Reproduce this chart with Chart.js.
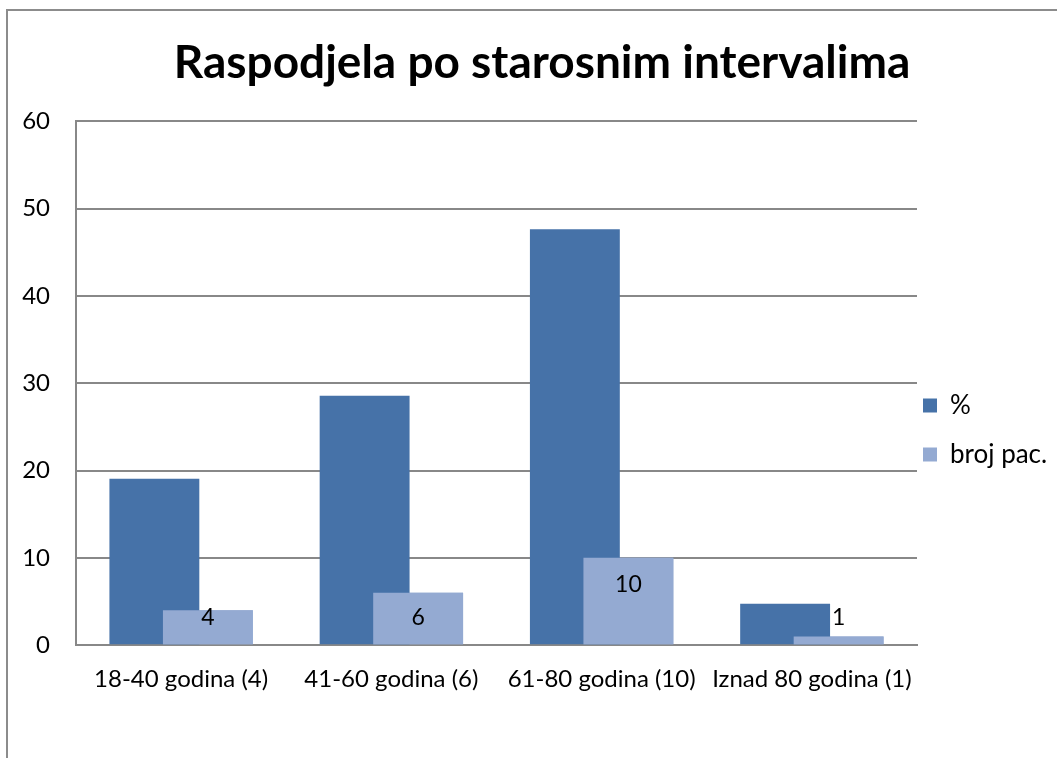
<!DOCTYPE html>
<html>
<head>
<meta charset="utf-8">
<script src="https://cdn.jsdelivr.net/npm/chart.js@4"></script>
<style>
  html, body { margin: 0; padding: 0; background: #ffffff; overflow: hidden; }
  #wrap { position: relative; width: 1057px; height: 758px; }
  #frame { position: absolute; left: 6px; top: 9px; width: 1100px; height: 800px;
           border-left: 2px solid #8c8c8c; border-top: 2px solid #8c8c8c; pointer-events: none; }
  canvas { position: absolute; left: 0; top: 0; }
</style>
</head>
<body>
<div id="wrap">
  <canvas id="c" width="1057" height="758"></canvas>
  <div id="frame"></div>
</div>
<script>
const titleText = 'Raspodjela po starosnim intervalima';
const categories = ['18-40 godina (4)', '41-60 godina (6)', '61-80 godina (10)', 'Iznad 80 godina (1)'];
const seriesNames = ['%', 'broj pac.'];
const percentValues = [19.05, 28.57, 47.62, 4.76];
const patientCounts = [4, 6, 10, 1];
const yTicks = [0, 10, 20, 30, 40, 50, 60];

const FONT = 'Lato, "Open Sans", sans-serif';
const DARK = '#4672A8';
const LIGHT = '#94AAD2';
const GRID = '#888888';

const overlapPlugin = {
  id: 'overlapAndLabels',
  afterLayout(chart) {
    const l = chart.legend;
    if (l) { l.left -= 17; l.top += 73; l.bottom += 73; }
    const t = chart.titleBlock;
    if (t) { t.left += 27; }
  },
  afterDatasetsDraw(chart) {
    const meta = chart.getDatasetMeta(1);
    const ctx = chart.ctx;
    const area = chart.chartArea;
    ctx.save();
    ctx.beginPath();
    ctx.rect(area.left, area.top, area.right - area.left, area.bottom - area.top);
    ctx.clip();
    meta.controller.draw();
    ctx.restore();
    ctx.save();
    ctx.fillStyle = '#000000';
    ctx.font = '23px ' + FONT;
    ctx.textAlign = 'center';
    ctx.textBaseline = 'middle';
    meta.data.forEach((bar, i) => {
      const y = Math.min(bar.y + 27, bar.base - 27);
      ctx.fillText(String(patientCounts[i]), bar.x, y);
    });
    ctx.restore();
  }
};

new Chart(document.getElementById('c'), {
  type: 'bar',
  data: {
    labels: categories,
    datasets: [
      { label: seriesNames[0], data: percentValues, backgroundColor: DARK, borderWidth: 0 },
      { label: seriesNames[1], data: patientCounts, backgroundColor: LIGHT, borderWidth: 0 }
    ]
  },
  options: {
    responsive: false,
    animation: false,
    devicePixelRatio: 1,
    categoryPercentage: 0.509,
    barPercentage: 1.68,
    layout: { padding: { left: 0, right: 0, top: 0, bottom: 44 } },
    plugins: {
      tooltip: { enabled: false },
      title: {
        display: true,
        text: titleText,
        color: '#000000',
        font: { family: FONT, size: 46, weight: 'bold', lineHeight: 1.2 },
        padding: { top: 36, bottom: 30 }
      },
      legend: {
        position: 'right',
        maxWidth: 140,
        labels: {
          boxWidth: 14,
          boxHeight: 14,
          padding: 23,
          color: '#000000',
          font: { family: FONT, size: 26 }
        }
      }
    },
    scales: {
      x: {
        grid: { display: false, drawTicks: false },
        border: { display: true, color: GRID, width: 2 },
        ticks: { color: '#000000', font: { family: FONT, size: 24 }, padding: 20, maxRotation: 0, autoSkip: false }
      },
      y: {
        min: yTicks[0],
        max: yTicks[yTicks.length - 1],
        afterBuildTicks(scale) { scale.ticks = yTicks.map(v => ({ value: v })); },
        afterFit(scale) { scale.width = 76; },
        grid: { color: GRID, lineWidth: 2, drawTicks: false },
        border: { display: true, color: GRID, width: 2 },
        ticks: { color: '#000000', font: { family: FONT, size: 24 }, padding: 26 }
      }
    }
  },
  plugins: [overlapPlugin]
});
</script>
</body>
</html>
